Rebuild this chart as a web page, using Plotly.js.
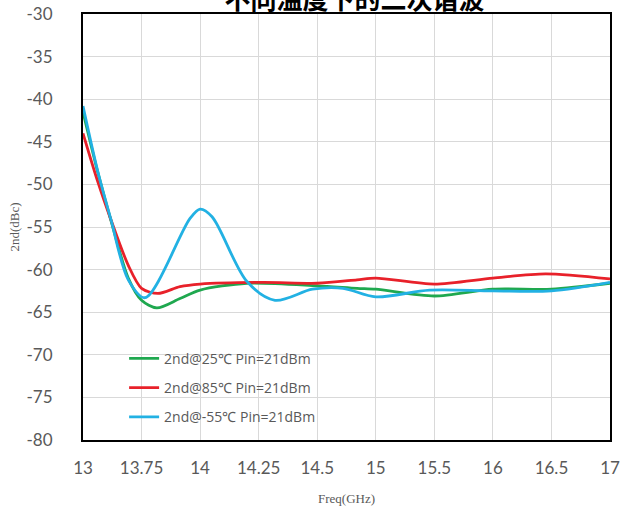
<!DOCTYPE html>
<html>
<head>
<meta charset="utf-8">
<script src="https://cdn.plot.ly/plotly-3.0.1.min.js"></script>
<style>html,body{margin:0;padding:0;background:#fff;}#chart{width:621px;height:510px;}</style>
</head>
<body>
<div id="chart"></div>
<script>
// Tick labels of the (evenly spaced) frequency axis
const tickFreqs = [13, 13.75, 14, 14.25, 14.5, 15, 15.5, 16, 16.5, 17];
const tickLabels = ["13", "13.75", "14", "14.25", "14.5", "15", "15.5", "16", "16.5", "17"];
// y-axis ticks
const yTickVals = [-80, -75, -70, -65, -60, -55, -50, -45, -40, -35, -30];
const yTickLabels = ["-80", "-75", "-70", "-65", "-60", "-55", "-50", "-45", "-40", "-35", "-30"];

// Series: 2nd@25°C
const freq25 = [13.0, 13.19, 13.36, 13.58, 13.75, 13.815, 13.914, 14.0, 14.2, 14.5, 14.84, 15.0, 15.5, 16.0, 16.5, 17.0];
const val25  = [-41.5, -48.6, -54.3, -61.0, -63.6, -64.5, -63.4, -62.4, -61.6, -61.9, -62.2, -62.3, -63.1, -62.3, -62.3, -61.6];

// Series: 2nd@85°C
const freq85 = [13.0, 13.19, 13.36, 13.58, 13.75, 13.82, 13.914, 14.0, 14.27, 14.5, 14.84, 15.0, 15.5, 16.0, 16.45, 17.0];
const val85  = [-44.0, -49.7, -54.2, -59.5, -62.2, -62.8, -62.0, -61.7, -61.5, -61.6, -61.2, -61.0, -61.7, -61.0, -60.5, -61.1];

// Series: 2nd@-55°C
const freqM55 = [13.0, 13.19, 13.36, 13.58, 13.765, 13.957, 14.0, 14.051, 14.2, 14.32, 14.48, 14.72, 15.0, 15.46, 16.0, 16.5, 17.0];
const valM55  = [-40.8, -48.5, -54.2, -61.2, -63.3, -54.0, -52.9, -53.8, -61.4, -63.6, -62.3, -62.2, -63.2, -62.4, -62.5, -62.5, -61.5];

// map a frequency onto the evenly spaced tick axis (piecewise linear between tick labels)
function toPos(f) {
  for (let i = 0; i < tickFreqs.length - 1; i++) {
    if (f <= tickFreqs[i + 1]) {
      return i + (f - tickFreqs[i]) / (tickFreqs[i + 1] - tickFreqs[i]);
    }
  }
  return tickFreqs.length - 1;
}
const tickPos = tickFreqs.map(toPos);

const lw = 2.8;
const traces = [
  {x: freq25.map(toPos), y: val25, name: "2nd@25℃ Pin=21dBm", mode: "lines",
   line: {color: "#1fa84f", width: lw, shape: "spline", smoothing: 0.8}, legendgroup: "a"},
  {x: freq85.map(toPos), y: val85, name: "2nd@85℃ Pin=21dBm", mode: "lines",
   line: {color: "#e8212a", width: lw, shape: "spline", smoothing: 0.8}, legendgroup: "b"},
  {x: freqM55.map(toPos), y: valM55, name: "2nd@-55℃ Pin=21dBm", mode: "lines",
   line: {color: "#22b1e3", width: lw, shape: "spline", smoothing: 0.9}, legendgroup: "c"}
];

const layout = {
  width: 621, height: 510,
  margin: {l: 83, r: 11, t: 14, b: 70},
  paper_bgcolor: "#ffffff", plot_bgcolor: "#ffffff",
  showlegend: true,
  title: {
    text: "<b>不同温度下的二次谐波</b>",
    font: {family: "Noto Sans CJK SC", size: 26, color: "#000000"},
    xref: "container", x: 0.571, xanchor: "center",
    yref: "container", y: 1, yanchor: "middle"
  },
  xaxis: {
    range: [0, tickFreqs.length - 1],
    tickvals: tickPos, ticktext: tickLabels,
    showgrid: true, gridcolor: "#d9d9d9", gridwidth: 1,
    showline: true, linecolor: "#000000", linewidth: 2, mirror: true,
    ticks: "", zeroline: false,
    tickfont: {family: "Lato", size: 17, color: "#595959"},
    ticklabelstandoff: 12,
    title: {text: "Freq(GHz)", font: {family: "Liberation Serif", size: 13, color: "#595959"}, standoff: 16}
  },
  yaxis: {
    range: [-80, -30],
    tickvals: yTickVals, ticktext: yTickLabels,
    showgrid: true, gridcolor: "#d9d9d9", gridwidth: 1,
    showline: true, linecolor: "#000000", linewidth: 2, mirror: true,
    ticks: "", zeroline: false,
    tickfont: {family: "Lato", size: 17, color: "#595959"},
    ticklabelstandoff: 25,
    title: {text: "2nd(dBc)", font: {family: "Liberation Serif", size: 13, color: "#595959"}, standoff: 4}
  },
  legend: {
    x: 0.078, y: 0.228, xanchor: "left", yanchor: "top",
    bgcolor: "rgba(0,0,0,0)", borderwidth: 0,
    font: {family: "Open Sans", size: 14, color: "#595959"},
    tracegroupgap: 8
  }
};

Plotly.newPlot("chart", traces, layout, {displayModeBar: false, staticPlot: true});
</script>
</body>
</html>
